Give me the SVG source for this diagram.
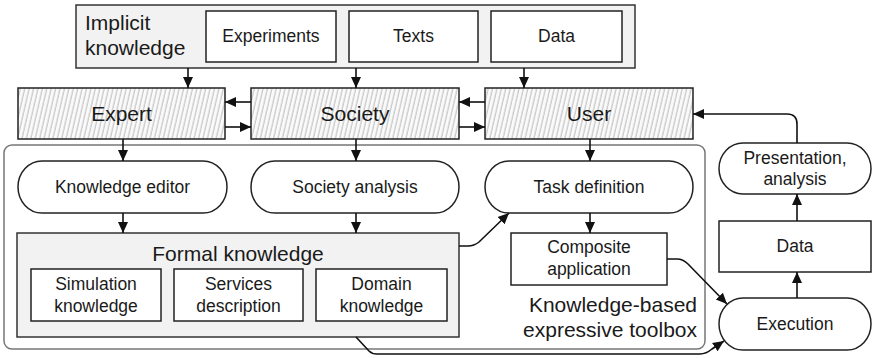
<svg xmlns="http://www.w3.org/2000/svg" width="874" height="358" viewBox="0 0 874 358">
<style>
text{font-family:"Liberation Sans",Arial,sans-serif;fill:#1a1a1a}
.big{font-size:21px}
.sm{font-size:17.5px}
.mid{text-anchor:middle}
.box{fill:#fff;stroke:#222;stroke-width:1.5}
.gray{fill:#f2f2f2;stroke:#333;stroke-width:1.5}
.hatch{fill:url(#hp);stroke:#222;stroke-width:1.5}
.pill{fill:#fff;stroke:#222;stroke-width:1.5}
.conn path{fill:none;stroke:#111;stroke-width:1.6;marker-end:url(#ah)}
</style>
<defs>
<pattern id="hp" width="4.3" height="12" patternUnits="userSpaceOnUse" patternTransform="rotate(13)">
<rect width="4.3" height="12" fill="#fafafa"/>
<line x1="1" y1="0" x2="1" y2="12" stroke="#b4b4b4" stroke-width="0.9"/>
</pattern>
<marker id="ah" markerUnits="userSpaceOnUse" markerWidth="12" markerHeight="12" viewBox="0 0 12 12" refX="11" refY="6" orient="auto">
<path d="M0,1 L11,6 L0,11 Z" fill="#111"/>
</marker>
</defs>

<g id="toolbox">
<rect x="4" y="145" width="701" height="204" rx="8" fill="#fff" stroke="#777" stroke-width="1.5"/>
<text class="big" x="697" y="312" text-anchor="end">Knowledge-based</text>
<text class="big" x="697" y="337" text-anchor="end">expressive toolbox</text>
</g>

<g id="implicit">
<rect class="gray" x="76" y="5" width="559" height="63"/>
<text class="big" x="85" y="30">Implicit</text>
<text class="big" x="85" y="55">knowledge</text>
</g>
<g id="experiments">
<rect class="box" x="206" y="11" width="130" height="51"/>
<text class="sm mid" x="271" y="42">Experiments</text>
</g>
<g id="texts">
<rect class="box" x="349" y="11" width="129" height="51"/>
<text class="sm mid" x="413.5" y="42">Texts</text>
</g>
<g id="data-top">
<rect class="box" x="491" y="11" width="131" height="51"/>
<text class="sm mid" x="556.5" y="42">Data</text>
</g>

<g id="expert">
<rect class="hatch" x="18" y="88" width="207" height="51"/>
<text class="big mid" x="121.5" y="121">Expert</text>
</g>
<g id="society">
<rect class="hatch" x="251" y="88" width="208" height="51"/>
<text class="big mid" x="355" y="121">Society</text>
</g>
<g id="user">
<rect class="hatch" x="485" y="88" width="208" height="51"/>
<text class="big mid" x="589" y="121">User</text>
</g>

<g id="knowledge-editor">
<rect class="pill" x="18" y="161" width="209" height="52" rx="24" ry="26"/>
<text class="sm mid" x="122.5" y="193">Knowledge editor</text>
</g>
<g id="society-analysis">
<rect class="pill" x="251" y="161" width="208" height="52" rx="24" ry="26"/>
<text class="sm mid" x="355" y="193">Society analysis</text>
</g>
<g id="task-definition">
<rect class="pill" x="485" y="161" width="208" height="52" rx="24" ry="26"/>
<text class="sm mid" x="589" y="193">Task definition</text>
</g>

<g id="formal-knowledge">
<rect class="gray" x="17" y="233" width="442" height="104"/>
<text class="big mid" x="238" y="261">Formal knowledge</text>
</g>
<g id="simulation-knowledge">
<rect class="box" x="31" y="269" width="130" height="52"/>
<text class="sm mid" x="96" y="290">Simulation</text>
<text class="sm mid" x="96" y="312">knowledge</text>
</g>
<g id="services-description">
<rect class="box" x="174" y="269" width="129" height="52"/>
<text class="sm mid" x="238.5" y="290">Services</text>
<text class="sm mid" x="238.5" y="312">description</text>
</g>
<g id="domain-knowledge">
<rect class="box" x="316" y="269" width="131" height="52"/>
<text class="sm mid" x="381.5" y="290">Domain</text>
<text class="sm mid" x="381.5" y="312">knowledge</text>
</g>

<g id="composite-application">
<rect class="box" x="511" y="233" width="156" height="52"/>
<text class="sm mid" x="589" y="253">Composite</text>
<text class="sm mid" x="589" y="275">application</text>
</g>

<g id="presentation">
<rect class="pill" x="719" y="143" width="152" height="51" rx="24" ry="25.5"/>
<text class="sm mid" x="795" y="164">Presentation,</text>
<text class="sm mid" x="795" y="185">analysis</text>
</g>
<g id="data-right">
<rect class="box" x="719" y="221" width="152" height="51"/>
<text class="sm mid" x="795" y="252">Data</text>
</g>
<g id="execution">
<rect class="pill" x="719" y="298" width="152" height="52" rx="24" ry="26"/>
<text class="sm mid" x="795" y="330">Execution</text>
</g>

<g id="connectors" class="conn">
<path d="M188,68 L188,88"/>
<path d="M356,68 L356,88"/>
<path d="M524,68 L524,88"/>
<path d="M251,102 L225,102"/>
<path d="M225,127 L251,127"/>
<path d="M485,102 L459,102"/>
<path d="M459,127 L485,127"/>
<path d="M123,139 L123,161"/>
<path d="M356,139 L356,161"/>
<path d="M590,139 L590,161"/>
<path d="M123,213 L123,233"/>
<path d="M356,213 L356,233"/>
<path d="M590,213 L590,233"/>
<path d="M459,246 L468,246 Q474,246 479,242 L509,213"/>
<path d="M667,259 L677,259 Q683,259 688,264 L727,304"/>
<path d="M356,337 L369,351 Q372,354 377,354 L700,354 Q706,354 712,349 L724,341"/>
<path d="M797,298 L797,272"/>
<path d="M797,221 L797,194"/>
<path d="M797,143 L797,124 Q797,114 787,114 L693,114"/>
</g>
</svg>
